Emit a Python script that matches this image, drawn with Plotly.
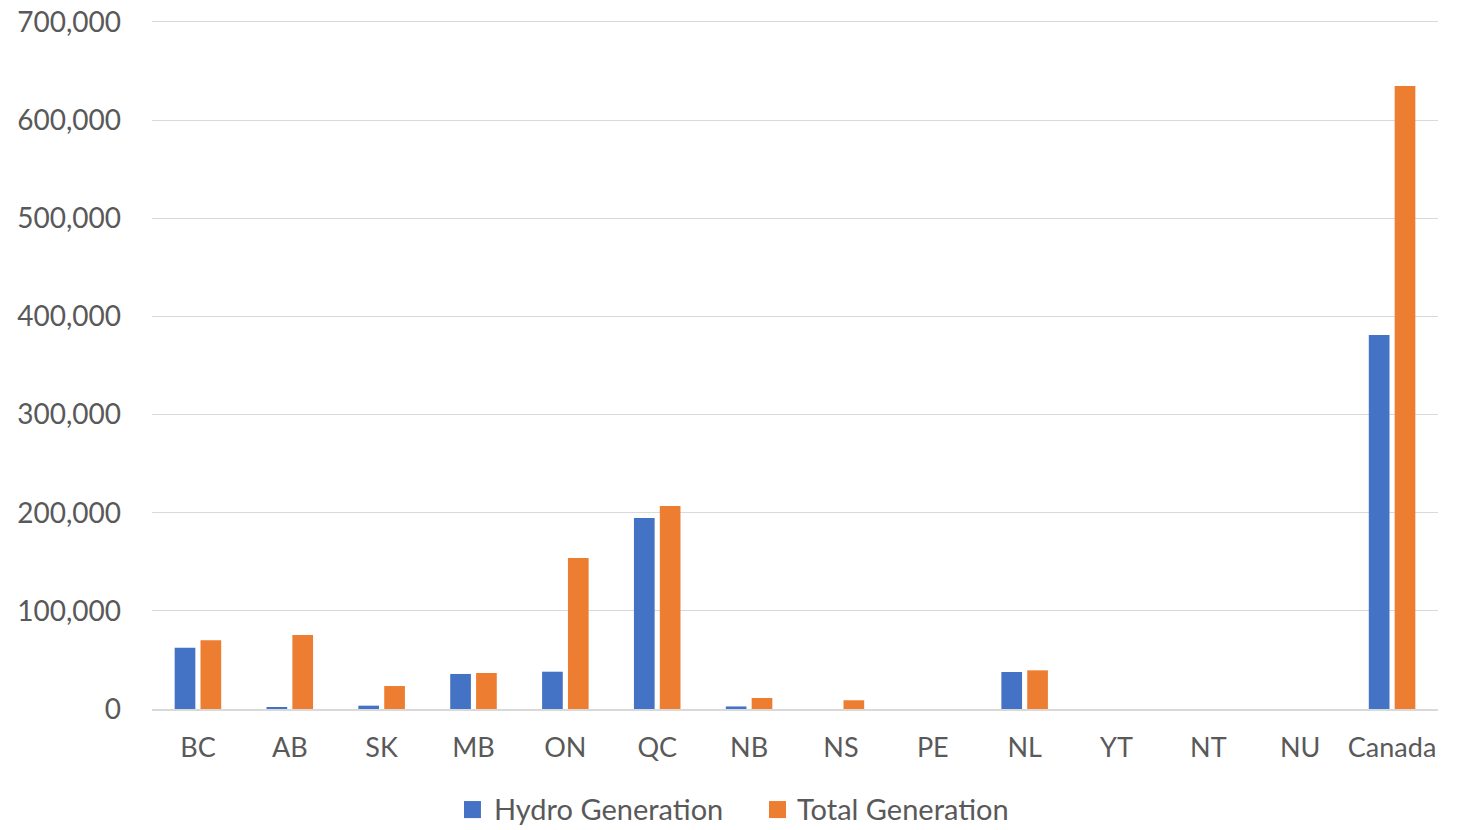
import plotly.graph_objects as go

regions = ["BC", "AB", "SK", "MB", "ON", "QC", "NB", "NS", "PE", "NL", "YT", "NT", "NU", "Canada"]
hydro_gen = [62500, 1700, 3400, 35700, 38000, 194600, 2600, 0, 0, 37700, 0, 0, 0, 381100]
total_gen = [70000, 75400, 23400, 36700, 153900, 206900, 11200, 8900, 0, 39400, 0, 0, 0, 634800]
y_ticks = [0, 100000, 200000, 300000, 400000, 500000, 600000, 700000]

series_names = ["Hydro Generation", "Total Generation"]
series_colors = ["#4472C4", "#ED7D31"]

font_family = "Lato, 'Open Sans', sans-serif"
text_color = "#595959"

fig = go.Figure()
for name, vals, color in zip(series_names, [hydro_gen, total_gen], series_colors):
    fig.add_trace(go.Bar(name=name, x=regions, y=vals,
                         marker=dict(color=color, line=dict(width=0))))

# Legend drawn below the axis as coloured squares plus labels
legend_items = [(0.2426, 0.2644), (0.4798, 0.5000)]
for (sq_x, txt_x), name, color in zip(legend_items, series_names, series_colors):
    fig.add_shape(type="rect", xref="paper", yref="paper",
                  x0=sq_x, x1=sq_x + 0.0132, y0=-0.1583, y1=-0.1336,
                  fillcolor=color, line=dict(width=0))
    fig.add_annotation(xref="paper", yref="paper", x=txt_x, y=-0.1451,
                       xanchor="left", yanchor="middle", showarrow=False,
                       text=name, font=dict(size=29, color=text_color, family=font_family))

fig.update_layout(
    width=1458, height=830,
    margin=dict(l=152, r=20, t=20, b=121),
    paper_bgcolor="white", plot_bgcolor="white",
    barmode="group", bargap=0.437, bargroupgap=0.2,
    font=dict(family=font_family, color=text_color, size=27),
    showlegend=False,
    xaxis=dict(showgrid=False, showline=True, linecolor="#d9d9d9", linewidth=2,
               ticks="", tickfont=dict(size=27), ticklabelstandoff=14,
               automargin=False),
    yaxis=dict(range=[0, 702000], tickvals=y_ticks, tickformat=",",
               showgrid=True, gridcolor="#d9d9d9", gridwidth=1,
               zeroline=False, showline=False, ticks="",
               tickfont=dict(size=28), ticklabelstandoff=30,
               automargin=False),
)

fig.write_html("out.html")
